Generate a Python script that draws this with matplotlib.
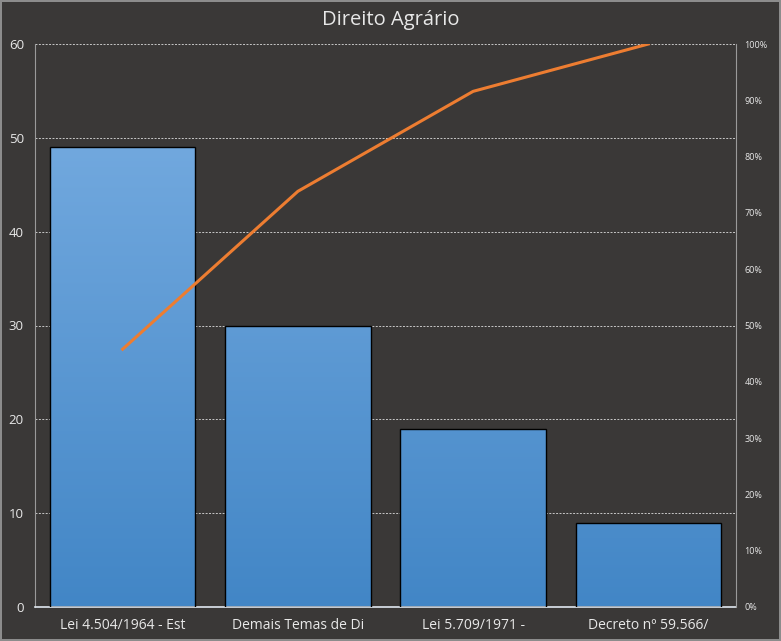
"""
Pareto: Direito Agrário.
"""

import numpy as np
import matplotlib
matplotlib.use("Agg")
import matplotlib.pyplot as plt
from matplotlib.colors import LinearSegmentedColormap
from matplotlib.ticker import FuncFormatter

categorias = ["Lei 4.504/1964 - Est", "Demais Temas de Di", "Lei 5.709/1971 -", "Decreto nº 59.566/"]
valores = [49, 30, 19, 9]
acumulado_pct = list(np.cumsum(valores) / np.sum(valores) * 100)

fundo = "#3a3837"
texto = "#e8e8e8"
eixo = "#9a9a9a"

plt.rcParams["font.family"] = ["Open Sans", "DejaVu Sans"]

fig = plt.figure(figsize=(7.81, 6.41), dpi=100, facecolor=fundo,
                 edgecolor="#8c8c8c", linewidth=1.5)
ax = fig.add_axes([35 / 781, 34 / 641, 701 / 781, 563 / 641], facecolor=fundo)

x = np.arange(len(categorias))
barras = ax.bar(x, valores, width=0.83, color="none", edgecolor="black", linewidth=1, zorder=3)

# gradiente vertical comum a todas as barras (depende da altura absoluta)
cmap = LinearSegmentedColormap.from_list("azul", ["#4286c6", "#71a8de"])
grad = np.linspace(0, 1, 256).reshape(-1, 1)
topo = max(valores)
for b in barras:
    x0 = b.get_x()
    im = ax.imshow(grad, cmap=cmap, origin="lower", aspect="auto",
                   extent=(x0, x0 + b.get_width(), 0, topo), zorder=2)
    im.set_clip_path(b)

ax.set_xlim(-0.5, len(categorias) - 0.5)
ax.set_ylim(0, 60)
ax.set_yticks(range(0, 61, 10))
ax.yaxis.grid(True, color="#c8c8c8", linestyle=(0, (2, 1.5)), linewidth=0.7, zorder=0)
ax.set_axisbelow(True)
ax.set_xticks(x)
ax.set_xticklabels(categorias)
ax.tick_params(axis="x", length=0, colors=texto, labelsize=10, pad=8)
ax.tick_params(axis="y", length=0, colors=texto, labelsize=9.5, pad=8)
for s in ["top", "right"]:
    ax.spines[s].set_visible(False)
ax.spines["left"].set_color(eixo)
ax.spines["bottom"].set_color("#e0e8f0")
ax.spines["bottom"].set_linewidth(1.2)

ax2 = ax.twinx()
ax2.plot(x, acumulado_pct, color="#ed7d31", linewidth=2.2, zorder=4)
ax2.set_ylim(0, 100)
ax2.set_yticks(range(0, 101, 10))
ax2.yaxis.set_major_formatter(FuncFormatter(lambda v, _: f"{v:.0f}%"))
ax2.tick_params(axis="y", length=0, colors=texto, labelsize=6.5, pad=6)
for s in ["top", "left", "bottom"]:
    ax2.spines[s].set_visible(False)
ax2.spines["right"].set_color(eixo)

fig.text(0.5, 1 - 20 / 641, "Direito Agrário", ha="center", va="center",
         color=texto, fontsize=14.5)

fig.savefig("out.png", dpi=100, facecolor=fundo, edgecolor="#8c8c8c")
